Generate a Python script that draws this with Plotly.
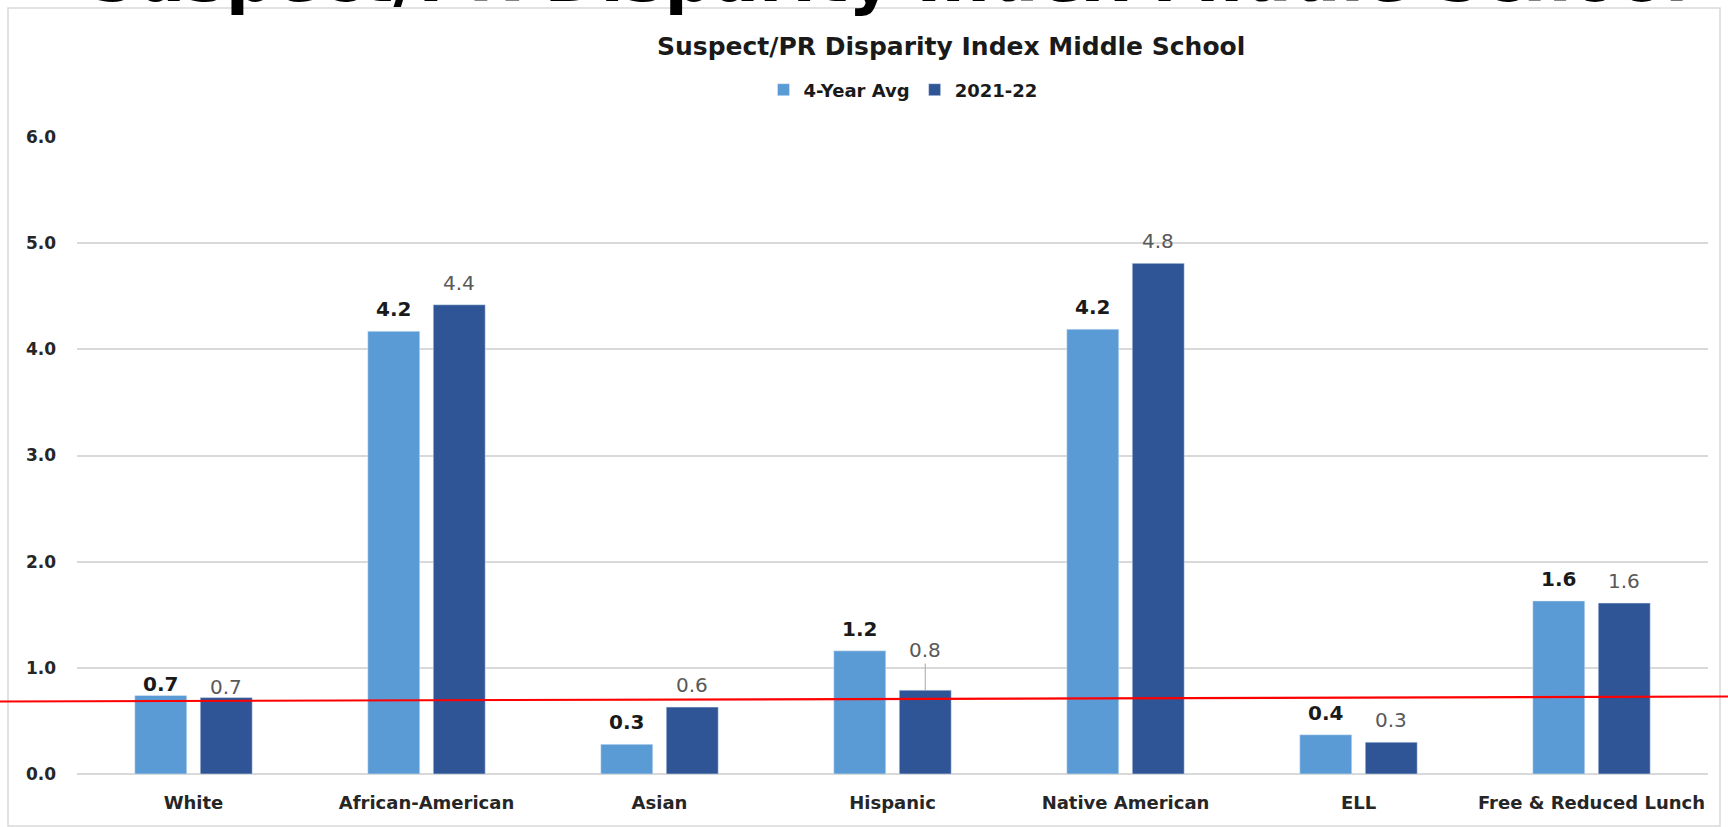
import plotly.graph_objects as go

# ---------------- data ----------------
categories = ["White", "African-American", "Asian", "Hispanic",
              "Native American", "ELL", "Free & Reduced Lunch"]
avg_4yr = [0.74, 4.17, 0.28, 1.16, 4.19, 0.37, 1.63]
yr_2021_22 = [0.72, 4.42, 0.63, 0.79, 4.81, 0.30, 1.61]
series_names = ["4-Year Avg", "2021-22"]
y_ticks = [0, 1, 2, 3, 4, 5, 6]
threshold_line = [0.683, 0.730]            # hand-drawn red line (left, right)

chart_title = "Suspect/PR Disparity Index Middle School"
slide_title = "Suspect/PR Disparity Index Middle School"

# ---------------- style ----------------
LIGHT = "#5B9BD5"
DARK = "#2F5597"
GRID = "#D9D9D9"
TXT = "#262626"
VERD = "DejaVu Sans"
LABEL_LIFT = 8                      # px gap of data labels above bars
LABEL_LIFT_OVERRIDE = {"White": -3}  # labels Excel placed closer to bars
CALLOUT = {"Hispanic": -40}          # dark-bar label pulled up with leader line

W, H = 1728, 827
ML, MR, MT, MB = 77, 20, 137, 53
plot_h = H - MT - MB
plot_w = W - ML - MR


def py(px):   # pixel y -> paper y
    return (H - MB - px) / plot_h


def pxx(px):  # pixel x -> paper x
    return (px - ML) / plot_w


fig = go.Figure()
fig.add_trace(go.Bar(name=series_names[0], x=categories, y=avg_4yr,
                     marker_color=LIGHT))
fig.add_trace(go.Bar(name=series_names[1], x=categories, y=yr_2021_22,
                     marker_color=DARK))

bargap = 0.438
slot = plot_w / len(categories) * (1 - bargap) / 2

label_fonts = [dict(family=VERD, size=20, color="#1a1a1a", weight="bold"),
               dict(family=VERD, size=20, color="#595959")]
for si, vals in enumerate([avg_4yr, yr_2021_22]):
    xs = (-1 if si == 0 else 1) * slot / 2
    for c, v in zip(categories, vals):
        if si == 1 and c in CALLOUT:
            fig.add_annotation(
                x=c, y=v, xref="x", yref="y", xshift=xs,
                text=f"{v:.1f}", showarrow=True, arrowhead=0, arrowwidth=1,
                arrowcolor="#A6A6A6", ax=0, ay=CALLOUT[c], standoff=0,
                font=label_fonts[si])
            continue
        fig.add_annotation(
            x=c, y=v, xref="x", yref="y", xshift=xs,
            yshift=LABEL_LIFT_OVERRIDE.get(c, LABEL_LIFT),
            text=f"{v:.1f}", showarrow=False, yanchor="bottom",
            xanchor="center", font=label_fonts[si])

# chart title
fig.add_annotation(
    text=chart_title, xref="paper", yref="paper", x=pxx(951), y=py(46),
    xanchor="center", yanchor="middle", showarrow=False,
    font=dict(family=VERD, size=25, color="#1a1a1a", weight="bold"),
)
# cut-off slide title at the very top
fig.add_annotation(
    text=slide_title, xref="paper", yref="paper", x=pxx(888), y=py(19),
    xanchor="center", yanchor="bottom", showarrow=False,
    font=dict(family=VERD, size=68, color="#000000", weight="bold"),
)

# chart frame
fig.add_shape(type="rect", xref="paper", yref="paper",
              x0=pxx(8), x1=pxx(1720), y0=py(826), y1=py(8),
              line=dict(color=GRID, width=1.5), layer="below")
# red line across the slide
fig.add_shape(type="line", xref="paper", yref="y",
              x0=pxx(0), x1=pxx(W), y0=threshold_line[0], y1=threshold_line[1],
              line=dict(color="#FF0000", width=2.2))

fig.update_layout(
    width=W, height=H,
    margin=dict(l=ML, r=MR, t=MT, b=MB, pad=0),
    paper_bgcolor="white", plot_bgcolor="white",
    barmode="group", bargap=bargap, bargroupgap=0.206,
    showlegend=True,
    legend=dict(orientation="h", x=pxx(903), xanchor="center",
                y=py(90), yanchor="middle",
                font=dict(family=VERD, size=18, color="#1a1a1a", weight="bold"),
                itemwidth=30, bgcolor="rgba(0,0,0,0)"),
    xaxis=dict(showgrid=False, showline=False, ticks="",
               tickfont=dict(family=VERD, size=18, color=TXT, weight="bold"),
               ticklabelstandoff=16),
    yaxis=dict(range=[0, 6], tickvals=y_ticks, tickformat=".1f",
               showgrid=True, gridcolor=GRID, gridwidth=1.5,
               zeroline=True, zerolinecolor=GRID, zerolinewidth=1.5,
               showline=False, ticks="",
               tickfont=dict(family=VERD, size=17, color=TXT, weight="bold"),
               ticklabelstandoff=20),
)

fig.write_html("out.html", config={"displayModeBar": False},
               post_script="document.body.style.margin='0';")
